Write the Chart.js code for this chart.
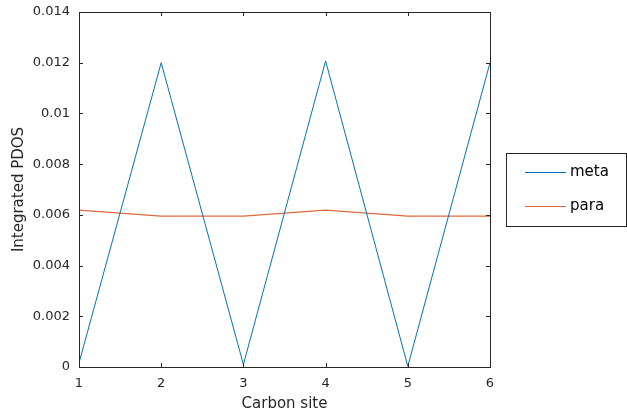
<!DOCTYPE html>
<html>
<head>
<meta charset="utf-8">
<script src="https://cdn.jsdelivr.net/npm/chart.js@4.4.1/dist/chart.umd.min.js"></script>
<style>
  html, body { margin: 0; padding: 0; background: #fff; }
  #wrap { width: 627px; height: 414px; }
</style>
</head>
<body>
<div id="wrap"><canvas id="myChart" width="627" height="414"></canvas></div>
<script>
// Data
const sites = [1, 2, 3, 4, 5, 6];
const meta = [0.00016, 0.0120, 0.0001, 0.01207, 0.00003, 0.0120];
const para = [0.00619, 0.00595, 0.00595, 0.00619, 0.00595, 0.00595];
const yTicks = [0, 0.002, 0.004, 0.006, 0.008, 0.01, 0.012, 0.014];

const axisColor = '#262626';
const fontFamily = 'DejaVu Sans';

// box around the axes, with inward ticks on all four sides
const boxPlugin = {
  id: 'box',
  afterDraw(chart) {
    const { ctx, chartArea: a, scales } = chart;
    const len = 4;
    ctx.save();
    ctx.strokeStyle = axisColor;
    ctx.lineWidth = 1;
    ctx.strokeRect(a.left + 0.5, a.top + 0.5, a.right - a.left, a.bottom - a.top);
    ctx.beginPath();
    sites.forEach(v => {
      const x = Math.round(scales.x.getPixelForValue(v)) + 0.5;
      ctx.moveTo(x, a.bottom); ctx.lineTo(x, a.bottom - len);
      ctx.moveTo(x, a.top); ctx.lineTo(x, a.top + len);
    });
    yTicks.forEach(v => {
      const y = Math.round(scales.y.getPixelForValue(v)) + 0.5;
      ctx.moveTo(a.left, y); ctx.lineTo(a.left + len, y);
      ctx.moveTo(a.right, y); ctx.lineTo(a.right - len, y);
    });
    ctx.stroke();
    ctx.restore();
  }
};

// legend box to the right of the axes
const legendPlugin = {
  id: 'sideLegend',
  afterDraw(chart) {
    const { ctx } = chart;
    const x0 = 506.5, y0 = 153.5, w = 120, h = 73;
    ctx.save();
    ctx.fillStyle = '#fff';
    ctx.fillRect(x0, y0, w, h);
    ctx.strokeStyle = axisColor;
    ctx.lineWidth = 1;
    ctx.strokeRect(x0, y0, w, h);
    ctx.font = '15px ' + fontFamily;
    ctx.textBaseline = 'middle';
    chart.data.datasets.forEach((ds, i) => {
      const y = 172.5 + i * 34;
      ctx.strokeStyle = ds.borderColor;
      ctx.beginPath();
      ctx.moveTo(525, y); ctx.lineTo(566, y);
      ctx.stroke();
      ctx.fillStyle = '#000';
      ctx.fillText(ds.label, 570, y);
    });
    ctx.restore();
  }
};

const ctx = document.getElementById('myChart');
new Chart(ctx, {
  type: 'line',
  data: {
    datasets: [{
      label: 'meta',
      data: sites.map((s, i) => ({ x: s, y: meta[i] })),
      borderColor: '#0072BD',
      borderWidth: 1,
      pointRadius: 0,
      tension: 0
    }, {
      label: 'para',
      data: sites.map((s, i) => ({ x: s, y: para[i] })),
      borderColor: '#DE6A3C',
      borderWidth: 1.2,
      pointRadius: 0,
      tension: 0
    }]
  },
  options: {
    responsive: false,
    animation: false,
    layout: { padding: { top: 12, right: 137, left: 6, bottom: 0 } },
    plugins: { legend: { display: false }, tooltip: { enabled: false } },
    scales: {
      x: {
        type: 'linear',
        min: 1, max: 6,
        grid: { display: false, drawTicks: false },
        border: { display: false },
        afterBuildTicks: s => { s.ticks = sites.map(v => ({ value: v })); },
        afterFit: s => { s.height = 47; s.paddingLeft = 0; s.paddingRight = 0; },
        ticks: {
          padding: 9,
          color: axisColor,
          font: { family: fontFamily, size: 13 },
          maxRotation: 0,
          callback: v => String(v)
        },
        title: {
          display: true,
          text: 'Carbon site',
          color: axisColor,
          padding: { top: 0, bottom: 1 },
          font: { family: fontFamily, size: 15 }
        }
      },
      y: {
        min: 0, max: 0.014,
        grid: { display: false, drawTicks: false },
        border: { display: false },
        afterBuildTicks: s => { s.ticks = yTicks.map(v => ({ value: v })); },
        afterFit: s => { s.width = 73; s.paddingTop = 0; s.paddingBottom = 0; },
        ticks: {
          padding: 9,
          color: axisColor,
          font: { family: fontFamily, size: 13 },
          callback: v => String(Math.round(v * 1000) / 1000)
        },
        title: {
          display: true,
          text: 'Integrated PDOS',
          color: axisColor,
          padding: { bottom: 2 },
          font: { family: fontFamily, size: 15 }
        }
      }
    }
  },
  plugins: [boxPlugin, legendPlugin]
});
</script>
</body>
</html>
